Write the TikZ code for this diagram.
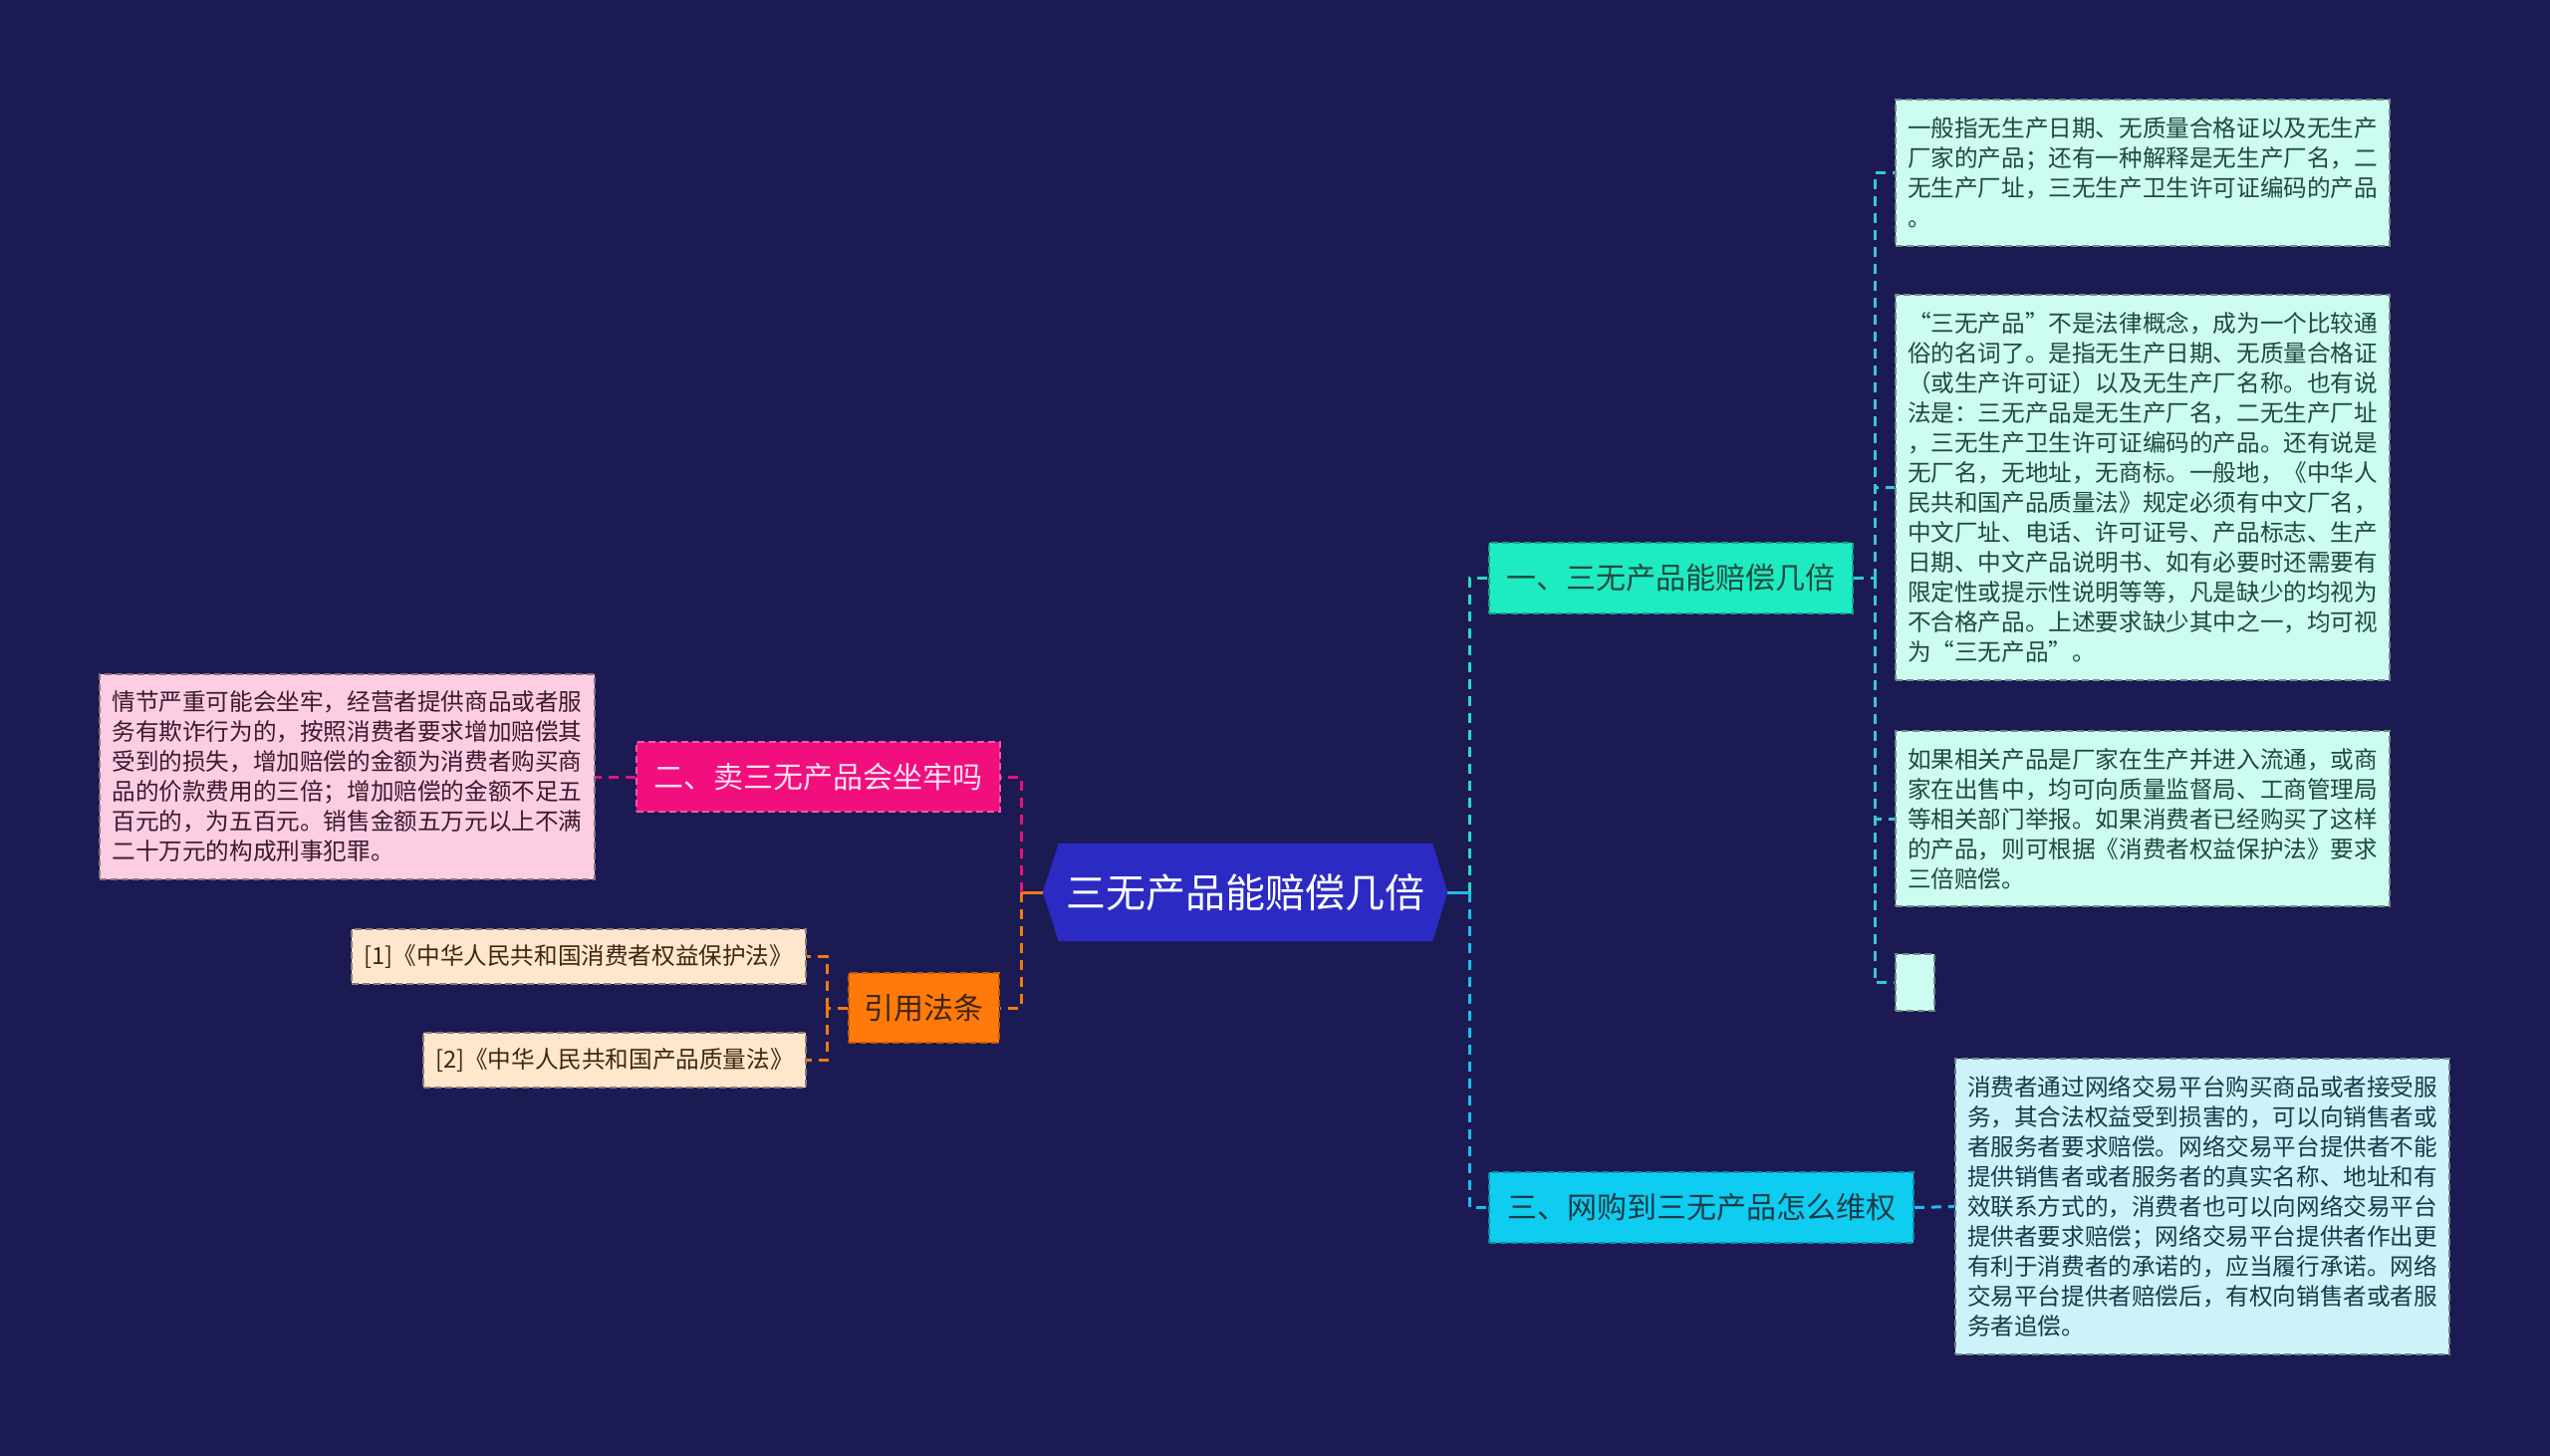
\documentclass[tikz,border=0pt]{standalone}
\usepackage{fontspec}
\setmainfont{Noto Sans CJK SC}
\usetikzlibrary{backgrounds}
\definecolor{bgc}{HTML}{1B1A53}
\definecolor{rootc}{HTML}{2B2BC4}
\definecolor{n1c}{HTML}{1EEBC2}
\definecolor{n3c}{HTML}{0ECDF0}
\definecolor{n2c}{HTML}{F00F7D}
\definecolor{citec}{HTML}{FF7A0A}
\definecolor{refc}{HTML}{FFE6CD}
\definecolor{mintc}{HTML}{CDFCF0}
\definecolor{skyc}{HTML}{CDF2FA}
\definecolor{pinkc}{HTML}{FDCDE4}
\definecolor{lkturq}{HTML}{2BD9C5}
\definecolor{lkcyan}{HTML}{1CBDEB}
\definecolor{lkteal}{HTML}{33C9D6}
\definecolor{lkpink}{HTML}{E0157E}
\definecolor{lkorange}{HTML}{F07B12}
\definecolor{txgreen}{HTML}{1F4A3F}
\definecolor{txblue}{HTML}{1A3A48}
\definecolor{txpink}{HTML}{3A1A2C}
\definecolor{txbrown}{HTML}{3D2612}
\tikzset{
  x=1pt, y=-1pt,
  boxbase/.style={draw=#1, line width=1.6pt, dash pattern=on 7pt off 4pt, inner sep=0pt},
  txtbox/.style={boxbase=#1, align=left, font=\fontsize{23.6}{30}\selectfont},
  lvlbox/.style={boxbase=#1, font=\fontsize{30}{36}\selectfont},
  link/.style={line width=3pt, dash pattern=on 10pt off 7pt},
  solidlink/.style={line width=3pt},
}
\begin{document}
\begin{tikzpicture}
\useasboundingbox (0,0) rectangle (2560,1462);

% root
\node[inner sep=0pt, minimum width=406pt, minimum height=98pt, text=white,
      font=\fontsize{40}{44}\selectfont] (root) at (1250,896) {三无产品能赔偿几倍};

% level 1
\node[lvlbox=n1c!70!black, fill=n1c, text=txgreen, minimum width=365pt, minimum height=71pt]
  (n1) at (1677.5,580.5) {一、三无产品能赔偿几倍};
\node[lvlbox=n3c!70!black, fill=n3c, text=txblue, minimum width=426pt, minimum height=71pt]
  (n3) at (1708,1212.5) {三、网购到三无产品怎么维权};
\node[lvlbox=n2c!70!white, fill=n2c, text=pinkc!60!white, minimum width=365pt, minimum height=70pt]
  (n2) at (821.5,780) {二、卖三无产品会坐牢吗};
\node[lvlbox=citec!75!black, fill=citec, text=txbrown, minimum width=151pt, minimum height=70pt]
  (cite) at (927.5,1012) {引用法条};

% right leaves
\node[txtbox=mintc!55!black, fill=mintc, text=txgreen, minimum width=496pt, minimum height=147pt]
  (b1) at (2151,173.5) {一般指无生产日期、无质量合格证以及无生产\\厂家的产品；还有一种解释是无生产厂名，二\\无生产厂址，三无生产卫生许可证编码的产品\\。};
\node[txtbox=mintc!55!black, fill=mintc, text=txgreen, minimum width=496pt, minimum height=387pt]
  (b2) at (2151,489.5) {“三无产品”不是法律概念，成为一个比较通\\俗的名词了。是指无生产日期、无质量合格证\\（或生产许可证）以及无生产厂名称。也有说\\法是：三无产品是无生产厂名，二无生产厂址\\，三无生产卫生许可证编码的产品。还有说是\\无厂名，无地址，无商标。一般地，《中华人\\民共和国产品质量法》规定必须有中文厂名，\\中文厂址、电话、许可证号、产品标志、生产\\日期、中文产品说明书、如有必要时还需要有\\限定性或提示性说明等等，凡是缺少的均视为\\不合格产品。上述要求缺少其中之一，均可视\\为“三无产品”。};
\node[txtbox=mintc!55!black, fill=mintc, text=txgreen, minimum width=496pt, minimum height=176pt]
  (b3) at (2151,822) {如果相关产品是厂家在生产并进入流通，或商\\家在出售中，均可向质量监督局、工商管理局\\等相关部门举报。如果消费者已经购买了这样\\的产品，则可根据《消费者权益保护法》要求\\三倍赔偿。};
\node[txtbox=mintc!55!black, fill=mintc, minimum width=39pt, minimum height=57pt]
  (b4) at (1922.5,986.5) {};
\node[txtbox=skyc!55!black, fill=skyc, text=txblue, minimum width=496pt, minimum height=297pt]
  (b5) at (2211,1211.5) {消费者通过网络交易平台购买商品或者接受服\\务，其合法权益受到损害的，可以向销售者或\\者服务者要求赔偿。网络交易平台提供者不能\\提供销售者或者服务者的真实名称、地址和有\\效联系方式的，消费者也可以向网络交易平台\\提供者要求赔偿；网络交易平台提供者作出更\\有利于消费者的承诺的，应当履行承诺。网络\\交易平台提供者赔偿后，有权向销售者或者服\\务者追偿。};

% left leaves
\node[txtbox=pinkc!55!black, fill=pinkc, text=txpink, minimum width=497pt, minimum height=206pt]
  (pk) at (348.5,780) {情节严重可能会坐牢，经营者提供商品或者服\\务有欺诈行为的，按照消费者要求增加赔偿其\\受到的损失，增加赔偿的金额为消费者购买商\\品的价款费用的三倍；增加赔偿的金额不足五\\百元的，为五百元。销售金额五万元以上不满\\二十万元的构成刑事犯罪。};
\node[txtbox=refc!55!black, fill=refc, text=txbrown, minimum width=456pt, minimum height=55pt]
  (r1) at (581,960.5) {[1]《中华人民共和国消费者权益保护法》};
\node[txtbox=refc!55!black, fill=refc, text=txbrown, minimum width=384pt, minimum height=55pt]
  (r2) at (617,1064.5) {[2]《中华人民共和国产品质量法》};

% background and root hexagon
\begin{scope}[on background layer]
  \fill[bgc] (0,0) rectangle (2560,1462);
  \fill[rootc] (root.west) -- ([xshift=16pt]root.north west) -- ([xshift=-15pt]root.north east)
     -- (root.east) -- ([xshift=-15pt]root.south east) -- ([xshift=16pt]root.south west) -- cycle;
\end{scope}

% junctions
\coordinate (jr) at (1475,896);
\coordinate (j1) at (1882,580.5);
\coordinate (jl) at (1025,896);
\coordinate (jc) at (830,1012);

% right connectors
\draw[solidlink, lkcyan] (root.east) -- (jr);
\draw[link, lkturq] (jr) |- (n1.west);
\draw[link, lkcyan] (jr) |- (n3.west);
\draw[link, lkteal] (n1.east) -- (j1);
\draw[link, lkteal] (j1) |- (b1.west);
\draw[link, lkteal] (j1) |- (b2.west);
\draw[link, lkteal] (j1) |- (b3.west);
\draw[link, lkteal] (j1) |- (b4.west);
\draw[link, lkcyan] (n3.east) -- (b5.west);

% left connectors
\draw[solidlink, lkorange] (root.west) -- (jl);
\draw[link, lkpink] (jl) |- (n2.east);
\draw[link, lkorange] (jl) |- (cite.east);
\draw[link, lkpink] (n2.west) -- (pk.east);
\draw[link, lkorange] (cite.west) -- (jc);
\draw[link, lkorange] (jc) |- (r1.east);
\draw[link, lkorange] (jc) |- (r2.east);
\end{tikzpicture}
\end{document}
